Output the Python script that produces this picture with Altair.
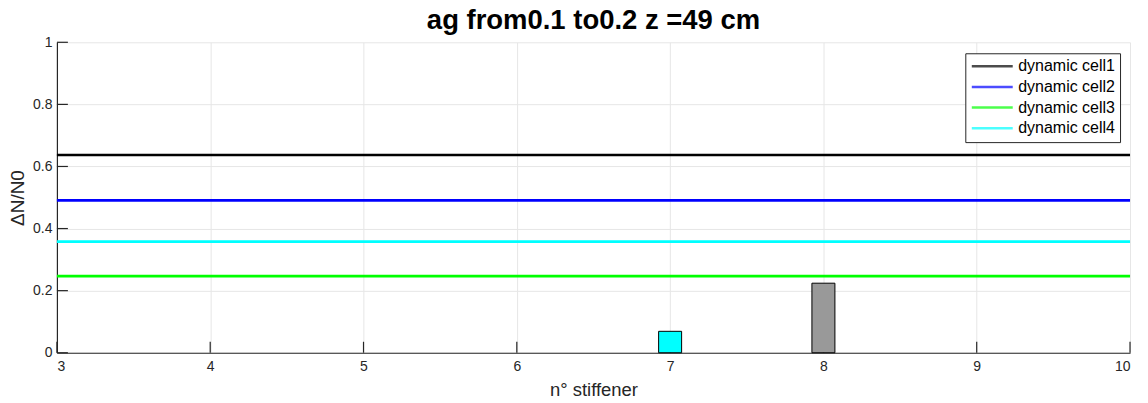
import altair as alt
import pandas as pd

series_names = ["dynamic cell1", "dynamic cell2", "dynamic cell3", "dynamic cell4"]
series_values = [0.637, 0.491, 0.247, 0.358]
series_colors = ["#000000", "#0000ff", "#00ff00", "#00ffff"]

bar_x = [7, 8]
bar_h = [0.069, 0.224]
bar_colors = ["#00ffff", "#999999"]
bar_half_width = 0.075

x_ticks = [3, 4, 5, 6, 7, 8, 9, 10]
y_ticks = [0, 0.2, 0.4, 0.6, 0.8, 1]
x_domain = [3, 10]
y_domain = [0, 1]

W, H = 1075, 311
FONT = "Liberation Sans"

lines_df = pd.DataFrame({"series": series_names, "value": series_values})
bars_df = pd.DataFrame({
    "x0": [v - bar_half_width for v in bar_x],
    "x1": [v + bar_half_width for v in bar_x],
    "h": bar_h,
    "c": bar_colors,
})
xt_df = pd.DataFrame({"t": x_ticks})
yt_df = pd.DataFrame({"t": y_ticks})
frame_df = pd.DataFrame({"xa": x_domain, "ya": y_domain})

xscale = alt.Scale(domain=x_domain, nice=False, zero=False)
yscale = alt.Scale(domain=y_domain, nice=False)

xaxis = alt.Axis(
    values=x_ticks, format="~g", ticks=False, grid=True, gridColor="#e6e6e6", gridWidth=1,
    domainColor="#262626", domainWidth=1.2, labelFont=FONT, labelFontSize=14,
    labelColor="#262626", labelPadding=7, title="n° stiffener", titleFont=FONT,
    titleFontSize=18.5, titleFontWeight="normal", titleColor="#262626",
    titleY=43, titleBaseline="alphabetic",
)
yaxis = alt.Axis(
    values=y_ticks, format="~g", ticks=False, grid=True, gridColor="#e6e6e6", gridWidth=1,
    domainColor="#262626", domainWidth=1.2, labelFont=FONT, labelFontSize=14,
    labelColor="#262626", labelPadding=5, title="ΔN/N0", titleFont=FONT,
    titleFontSize=19, titleFontWeight="normal", titleColor="#262626",
    titleX=-39, titleY=H / 2, titleAngle=270, titleAlign="center", titleBaseline="middle",
)

# invisible layer to carry axes & grid
axes_layer = alt.Chart(frame_df).mark_point(opacity=0).encode(
    x=alt.X("xa:Q", scale=xscale, axis=xaxis),
    y=alt.Y("ya:Q", scale=yscale, axis=yaxis),
)

yticks = alt.Chart(yt_df).mark_rule(color="#262626", strokeWidth=1.2).encode(
    y=alt.Y("t:Q", scale=yscale),
    x=alt.value(0),
    x2=alt.value(11),
)
xticks = alt.Chart(xt_df).mark_rule(color="#262626", strokeWidth=1.2).encode(
    x=alt.X("t:Q", scale=xscale),
    y=alt.value(H),
    y2=alt.value(H - 11),
)

bars = alt.Chart(bars_df).mark_rect(stroke="#000000", strokeWidth=1).encode(
    x=alt.X("x0:Q", scale=xscale),
    x2="x1:Q",
    y=alt.Y("h:Q", scale=yscale),
    y2=alt.datum(0),
    fill=alt.Fill("c:N", scale=None, legend=None),
)

lines = alt.Chart(lines_df).mark_rule(strokeWidth=2.7).encode(
    y=alt.Y("value:Q", scale=yscale),
    color=alt.Color(
        "series:N",
        scale=alt.Scale(domain=series_names, range=series_colors),
        sort=series_names,
        legend=alt.Legend(
            title=None, orient="none", legendX=910, legendY=11,
            symbolType="stroke", symbolSize=1681, symbolStrokeWidth=2.5,
            clipHeight=16, rowPadding=4.7, padding=5,
            labelFont=FONT, labelFontSize=16, labelColor="#000000",
            labelOffset=4, strokeColor="#262626", fillColor="#ffffff",
            symbolOpacity=0.7,
        ),
    ),
)

chart = alt.layer(axes_layer, yticks, xticks, bars, lines).properties(
    width=W, height=H,
    title=alt.TitleParams(
        "ag from0.1 to0.2 z =49 cm", font=FONT, fontSize=27.5, fontWeight="bold",
        color="#000000", anchor="middle", offset=1,
    ),
    autosize=alt.AutoSizeParams(type="none"),
    padding={"left": 49, "top": 34, "right": 10, "bottom": 50},
).configure_view(stroke=None)

chart.save("out.html", embed_options={"renderer": "svg", "actions": False})
